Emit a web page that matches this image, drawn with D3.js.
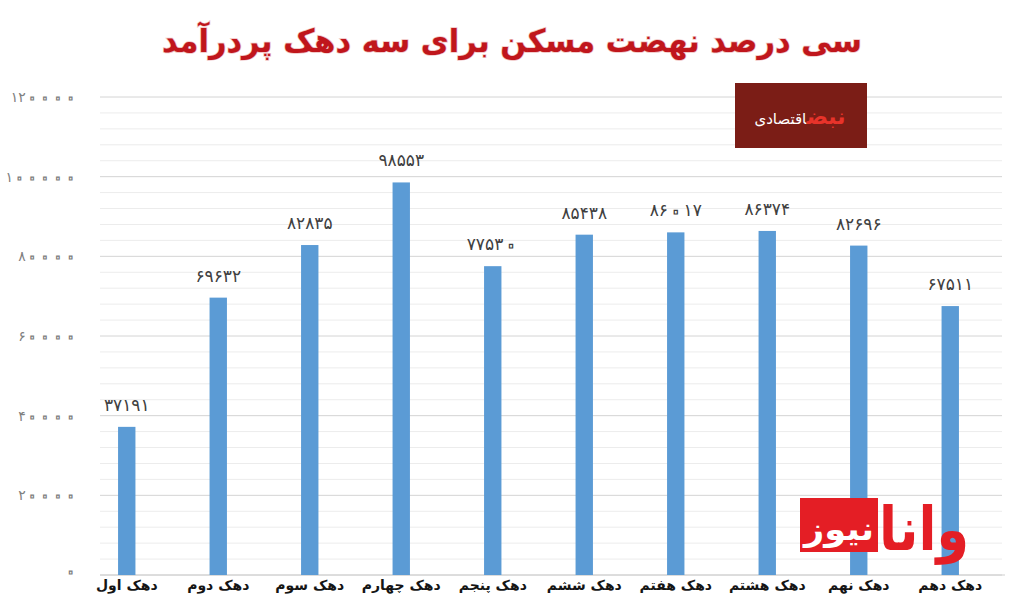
<!DOCTYPE html>
<html><head><meta charset="utf-8">
<script src="https://cdn.jsdelivr.net/npm/d3@7"></script>
<style>body{margin:0;background:#fff;}svg{display:block;}</style>
</head><body>
<svg id="c" width="1024" height="598"></svg>
<script>
const categories = ["دهک اول","دهک دوم","دهک سوم","دهک چهارم","دهک پنجم","دهک ششم","دهک هفتم","دهک هشتم","دهک نهم","دهک دهم"];
const values = [37191,69632,82835,98553,77530,85438,86017,86374,82696,67511];
const yTicks = [0,20000,40000,60000,80000,100000,120000];
const minorStep = 4000;
const title = "سی درصد نهضت مسکن برای سه دهک پردرآمد";

const fa = n => String(n).replace(/[0-9]/g, d => "۰۱۲۳۴۵۶۷۸۹"[+d]);
const svg = d3.select("#c");
const font = "'DejaVu Sans', sans-serif";

// render Persian digits with a hollow zero, like the reference typeface
function digits(sel, color, size) {
  sel.each(function () {
    const el = d3.select(this);
    const s = el.text();
    el.text(null);
    let shifted = false;
    const k = size * 0.22;
    for (const ch of s) {
      const sp = el.append("tspan").text(ch);
      if (ch === "۰") {
        sp.attr("font-size", size * 1.7).attr("fill", "#fff").attr("stroke", color).attr("stroke-width", 1.2);
        if (!shifted) { sp.attr("dy", k); shifted = true; }
      } else if (shifted) {
        sp.attr("dy", -k); shifted = false;
      }
    }
  });
}

const x = d3.scaleBand().domain(categories).range([81, 996]).paddingInner(0.81).paddingOuter(0.405);
const y = d3.scaleLinear().domain([0, 120000]).range([575, 97]);

// grid
const minor = d3.range(0, 120001, minorStep);
svg.append("g").selectAll("line").data(minor).join("line")
  .attr("x1", 100).attr("x2", 1002)
  .attr("y1", d => y(d)).attr("y2", d => y(d))
  .attr("stroke", d => d % 20000 === 0 ? "#d4d4d4" : "#ececec")
  .attr("stroke-width", 1);

// y axis labels
const yAxis = d3.axisLeft(y).tickValues(yTicks).tickSize(0).tickFormat(fa);
const ga = svg.append("g").attr("transform", "translate(80,0)").call(yAxis);
ga.select(".domain").remove();
ga.selectAll("text").attr("font-family", font).attr("font-size", 14).attr("fill", "#808080")
  .attr("letter-spacing", "2.5px").call(digits, "#808080", 14);

// x axis baseline
svg.append("line").attr("x1", 100).attr("x2", 1005).attr("y1", y(0)).attr("y2", y(0))
  .attr("stroke", "#d0d0d0").attr("stroke-width", 1.2);

// bars
svg.append("g").selectAll("rect").data(values).join("rect")
  .attr("x", (d, i) => x(categories[i]))
  .attr("width", x.bandwidth())
  .attr("y", d => y(d))
  .attr("height", d => y(0) - y(d))
  .attr("fill", "#5b9bd5");

// value labels
svg.append("g").selectAll("text").data(values).join("text")
  .attr("x", (d, i) => x(categories[i]) + x.bandwidth() / 2)
  .attr("y", d => y(d) - 16)
  .attr("text-anchor", "middle")
  .attr("font-family", font).attr("font-size", 17).attr("fill", "#404040")
  .attr("letter-spacing", "2.5px")
  .text(fa).call(digits, "#404040", 17);

// category labels
const xAxis = d3.axisBottom(x).tickSize(0);
const gx = svg.append("g").attr("transform", `translate(0,${y(0)})`).call(xAxis);
gx.select(".domain").remove();
gx.selectAll("text").attr("font-family", font).attr("font-size", 14).attr("font-weight", "bold")
  .attr("fill", "#151515").attr("dy", "0.85em").attr("direction", "rtl");

// title
svg.append("text").attr("x", 512).attr("y", 52).attr("text-anchor", "middle")
  .attr("direction", "rtl")
  .attr("font-family", font).attr("font-size", 32).attr("font-weight", "bold")
  .attr("fill", "#c0161c")
  .style("paint-order", "stroke").attr("stroke", "#f0c4c4").attr("stroke-width", 1.5)
  .attr("textLength", 700).attr("lengthAdjust", "spacingAndGlyphs")
  .text(title);

// logo box
svg.append("rect").attr("x", 735).attr("y", 83).attr("width", 132).attr("height", 65).attr("fill", "#7b1d16");
svg.append("text").attr("x", 800).attr("y", 124).attr("text-anchor", "middle").attr("direction", "rtl")
  .attr("font-family", font).attr("font-weight", "bold")
  .call(s => {
    s.append("tspan").attr("fill", "#e8332a").attr("font-size", 22).text("نبض");
    s.append("tspan").attr("fill", "#ffffff").attr("font-size", 15).attr("font-weight", "normal").text("اقتصادی");
  });

// watermark
svg.append("rect").attr("x", 800).attr("y", 498).attr("width", 78).attr("height", 54).attr("fill", "#e41e25");
svg.append("text").attr("x", 839).attr("y", 540).attr("text-anchor", "middle").attr("direction", "rtl")
  .attr("font-family", font).attr("font-size", 32).attr("font-weight", "bold").attr("fill", "#fff")
  .attr("textLength", 70).attr("lengthAdjust", "spacingAndGlyphs")
  .text("نیوز");
svg.append("text").attr("x", 924).attr("y", 550).attr("text-anchor", "middle").attr("direction", "rtl")
  .attr("font-family", font).attr("font-size", 60).attr("font-weight", "bold").attr("fill", "#e41e25")
  .attr("textLength", 90).attr("lengthAdjust", "spacingAndGlyphs")
  .text("وانا");
</script>
</body></html>
